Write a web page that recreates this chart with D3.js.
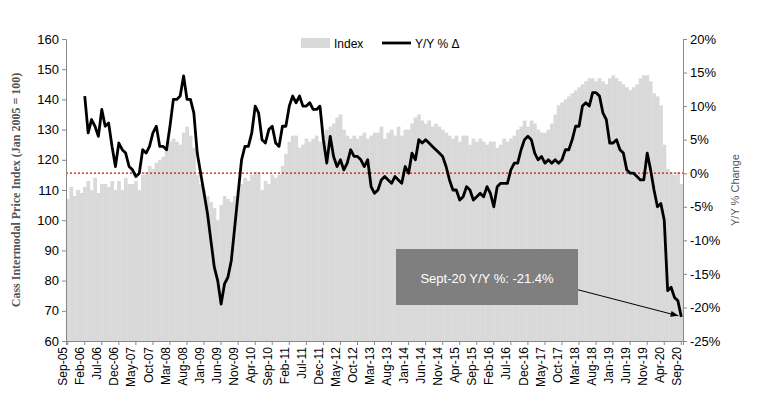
<!DOCTYPE html>
<html><head><meta charset="utf-8">
<script src="https://cdn.jsdelivr.net/npm/d3@7"></script>
<style>body{margin:0;background:#fff}text{font-family:"Liberation Sans",Arial,sans-serif}</style>
</head><body>
<script>
// Index by month, Sep-05 .. Sep-20
const indexValues = [
  107,111,108,110,
  109,111,113,110,114,109,112,112,111,113,110,113,
  110,114,112,112,113,110,115,116,118,117,119,120,
  121,124,126,127,126,125,129,131,128,124,115,112,
  110,108,106,104,100,105,108,107,106,108,110,112,
  114,113,115,116,116,110,113,112,115,114,115,118,
  122,126,128,128,124,125,127,126,127,128,126,127,
  130,131,132,134,135,130,128,127,128,127,128,129,
  127,128,129,129,131,127,129,130,128,131,128,130,
  130,132,134,135,133,132,133,131,132,131,130,129,
  128,127,128,126,128,128,125,127,126,127,126,125,
  126,126,124,125,127,126,127,128,130,131,133,131,
  133,132,130,129,129,130,132,135,138,139,140,141,
  142,143,144,145,146,147,147,146,147,146,145,147,
  148,147,146,145,144,143,144,145,147,148,148,146,
  142,141,138,125,117,116,115,116,112
];
// Y/Y % change, Feb-06 .. Sep-20
const yoyValues = [
  11.5,6,8,7,5.5,9.5,7,7.5,4,1,4.5,
  3.5,3,1,0.5,-0.5,0,3.5,3,4,6,7,4,
  4,3.5,7,11,11,11.5,14.5,11,11,9,3,0,
  -3,-6,-10,-14,-16,-19.5,-16.5,-15.5,-13,-8,-3,2,
  4,4,6,10,9,5,4.5,6.5,7,4.5,4,7,
  7,10,11.5,10.5,11.5,10,10,10.5,9.5,9.5,10,5,
  1.5,5.5,2.5,1,2,0.5,1.5,3.5,2.5,2.5,2,1,
  2,-2,-3,-2.5,-1,-0.5,-1,-1.5,-0.5,-1,-1.5,1,
  0,3,2,5,4.5,5,4.5,4,3.5,3,2.5,1,
  -1,-2.5,-2.5,-4,-3.5,-2,-2.5,-4,-3.5,-3,-3.5,-2,
  -3,-5,-2,-1.5,-1.5,-1.5,0.5,1.5,1.5,3.5,5,5.5,
  5,3,2,2.5,1.5,2,1.5,2,1.5,2,3.5,3.5,
  5,7,7,10,10.5,10,12,12,11.5,9,8,4.5,
  4.5,5,3.5,3,0.5,0,0,-0.5,-1,-1,3,0.5,
  -2.5,-5,-4.5,-7,-17.5,-17,-18.5,-19,-21.4
];
const monthNames = ["Jan","Feb","Mar","Apr","May","Jun","Jul","Aug","Sep","Oct","Nov","Dec"];
const months = indexValues.map((d, i) => {
  const m = (8 + i) % 12, y = 5 + Math.floor((8 + i) / 12);
  return monthNames[m] + "-" + String(y).padStart(2, "0");
});
const yoyOffset = months.length - yoyValues.length;

const W = 764, H = 413;
const m = {l: 66, r: 81, t: 39, b: 72};
const svg = d3.select("body").append("svg").attr("width", W).attr("height", H);

const x = d3.scaleBand().domain(months).range([m.l, W - m.r]).padding(0);
const yL = d3.scaleLinear().domain([60, 160]).range([H - m.b, m.t]);
const yR = d3.scaleLinear().domain([-25, 20]).range([H - m.b, m.t]);

// bars
svg.append("g").selectAll("rect").data(indexValues).join("rect")
  .attr("x", (d, i) => x(months[i]))
  .attr("width", x.bandwidth() + 0.3)
  .attr("y", d => yL(d))
  .attr("height", d => yL(60) - yL(d))
  .attr("fill", "#d9d9d9");

// zero line
svg.append("line").attr("x1", m.l).attr("x2", W - m.r)
  .attr("y1", yR(0)).attr("y2", yR(0))
  .attr("stroke", "#e00").attr("stroke-width", 1.3).attr("stroke-dasharray", "2,2");

// Y/Y line
const line = d3.line()
  .x((d, i) => x(months[i + yoyOffset]) + x.bandwidth() / 2)
  .y(d => yR(d));
svg.append("path").datum(yoyValues).attr("d", line)
  .attr("fill", "none").attr("stroke", "#000").attr("stroke-width", 2.8)
  .attr("stroke-linejoin", "round");

// axes
const axL = svg.append("g").attr("transform", `translate(${m.l},0)`)
  .call(d3.axisLeft(yL).tickValues(d3.range(60, 161, 10)).tickSize(4));
const axR = svg.append("g").attr("transform", `translate(${W - m.r},0)`)
  .call(d3.axisRight(yR).tickValues(d3.range(-25, 21, 5)).tickFormat(d => d + "%").tickSize(4));
const xTicks = months.filter((d, i) => i % 5 === 0);
const axB = svg.append("g").attr("transform", `translate(0,${H - m.b})`)
  .call(d3.axisBottom(x).tickValues(xTicks).tickSize(4));
axB.selectAll("text").attr("transform", "rotate(-90)").attr("text-anchor", "end")
  .attr("dx", "-0.5em").attr("dy", "-0.45em").attr("x", 0).attr("y", 5);
[axL, axR, axB].forEach(a => {
  a.selectAll("text").attr("font-size", 12).attr("fill", "#000");
  a.selectAll("line,path").attr("stroke", "#888");
});
axL.selectAll("text").attr("font-size", 13);
axR.selectAll("text").attr("font-size", 13);

// axis titles
svg.append("text").attr("transform", `translate(20,${(m.t + H - m.b) / 2}) rotate(-90)`)
  .attr("text-anchor", "middle").attr("font-size", 12).attr("font-weight", "bold")
  .attr("fill", "#555").style("font-family", "Liberation Serif,serif")
  .text("Cass Intermodal Price Index (Jan 2005 = 100)");
svg.append("text").attr("transform", `translate(${W - 25},${(m.t + H - m.b) / 2}) rotate(-90)`)
  .attr("text-anchor", "middle").attr("font-size", 11).attr("fill", "#555")
  .text("Y/Y % Change");

// legend
svg.append("rect").attr("x", 301).attr("y", 38).attr("width", 29).attr("height", 10).attr("fill", "#d9d9d9");
svg.append("text").attr("x", 334).attr("y", 48).attr("font-size", 12).text("Index");
svg.append("line").attr("x1", 382).attr("x2", 411).attr("y1", 43).attr("y2", 43)
  .attr("stroke", "#000").attr("stroke-width", 2.8);
svg.append("text").attr("x", 415).attr("y", 48).attr("font-size", 12).text("Y/Y % Δ");

// annotation
const last = yoyValues.length - 1;
svg.append("line").attr("x1", 548).attr("y1", 282)
  .attr("x2", x(months[last + yoyOffset]) + x.bandwidth() / 2 - 3).attr("y2", yR(yoyValues[last]) - 1)
  .attr("stroke", "#000").attr("stroke-width", 1);
svg.append("path").attr("d", "M0,0L-8,-3L-8,3Z").attr("fill", "#000")
  .attr("transform", `translate(${x(months[last + yoyOffset]) - 1},${yR(yoyValues[last]) - 1}) rotate(${Math.atan2(yR(yoyValues[last]) - 283, x(months[last + yoyOffset]) - 549) * 180 / Math.PI})`);
svg.append("rect").attr("x", 396).attr("y", 249).attr("width", 182).attr("height", 56).attr("fill", "#7f7f7f");
svg.append("text").attr("x", 487).attr("y", 283).attr("text-anchor", "middle")
  .attr("font-size", 13).attr("fill", "#fff").text("Sept-20 Y/Y %: -21.4%");
</script>
</body></html>
